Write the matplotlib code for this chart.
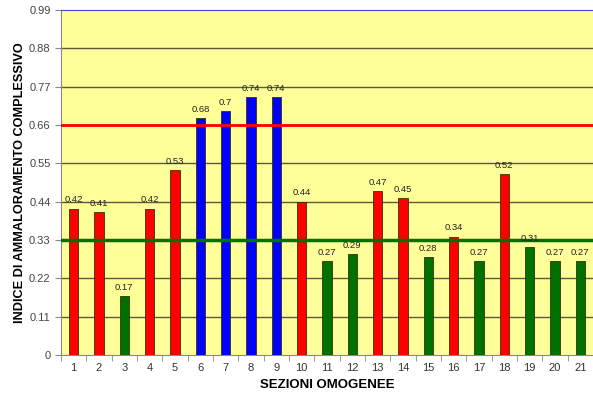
import numpy as np
import matplotlib
matplotlib.use('Agg')
import matplotlib.pyplot as plt

plt.rcParams['font.family'] = ['Liberation Sans', 'DejaVu Sans']

# Sections and damage index
sezioni = list(range(1, 22))
indice = [0.42, 0.41, 0.17, 0.42, 0.53, 0.68, 0.7, 0.74, 0.74, 0.44, 0.27,
          0.29, 0.47, 0.45, 0.28, 0.34, 0.27, 0.52, 0.31, 0.27, 0.27]
colori = ['red', 'red', 'green', 'red', 'red', 'blue', 'blue', 'blue', 'blue',
          'red', 'green', 'green', 'red', 'red', 'green', 'red', 'green',
          'red', 'green', 'green', 'green']
soglia_alta = 0.66
soglia_bassa = 0.33
yticks = [0, 0.11, 0.22, 0.33, 0.44, 0.55, 0.66, 0.77, 0.88, 0.99]

col_map = {'red': '#ff0000', 'green': '#007000', 'blue': '#0000ff'}

fig = plt.figure(figsize=(5.93, 4.01), dpi=100)
ax = fig.add_axes([0.1029, 0.1147, 0.8971, 0.8603])
ax.set_facecolor('#ffff99')

ax.set_xlim(0.5, 21.5)
ax.set_ylim(0, 0.99)
ax.set_yticks(yticks)
ax.set_yticklabels(['0' if v == 0 else f'{v:g}' for v in yticks])
for v in yticks[1:-1]:
    ax.axhline(v, color='#5a5a3a', lw=1.0, zorder=1)

ax.bar(sezioni, indice, width=0.37, color=[col_map[c] for c in colori],
       edgecolor='#333300', linewidth=0.6, zorder=3)

for x, v in zip(sezioni, indice):
    ax.text(x, v + 0.012, f'{v:g}', ha='center', va='bottom', fontsize=6.8,
            color='#222222', zorder=5)

ax.axhline(soglia_alta, color='#ff0000', lw=2, zorder=4)
ax.axhline(soglia_bassa, color='#007000', lw=2.5, zorder=4)

ax.set_xticks(sezioni)
ax.set_xticks(np.arange(0.5, 22, 1), minor=True)
ax.tick_params(axis='x', which='major', length=0, pad=6, labelsize=8, labelcolor='#333333')
ax.tick_params(axis='x', which='minor', length=4, color='#888888')
ax.tick_params(axis='y', length=4, color='#888888', labelsize=8, labelcolor='#444444')

ax.spines['right'].set_visible(False)
ax.spines['top'].set_color('#4444cc')
ax.spines['left'].set_color('#888888')
ax.spines['bottom'].set_color('#888888')

ax.set_xlabel('SEZIONI OMOGENEE', fontsize=9.5, fontweight='bold', labelpad=4)
ax.set_ylabel('INDICE DI AMMALORAMENTO COMPLESSIVO', fontsize=9.2,
              fontweight='bold', labelpad=2)

fig.savefig('out.png', dpi=100)
